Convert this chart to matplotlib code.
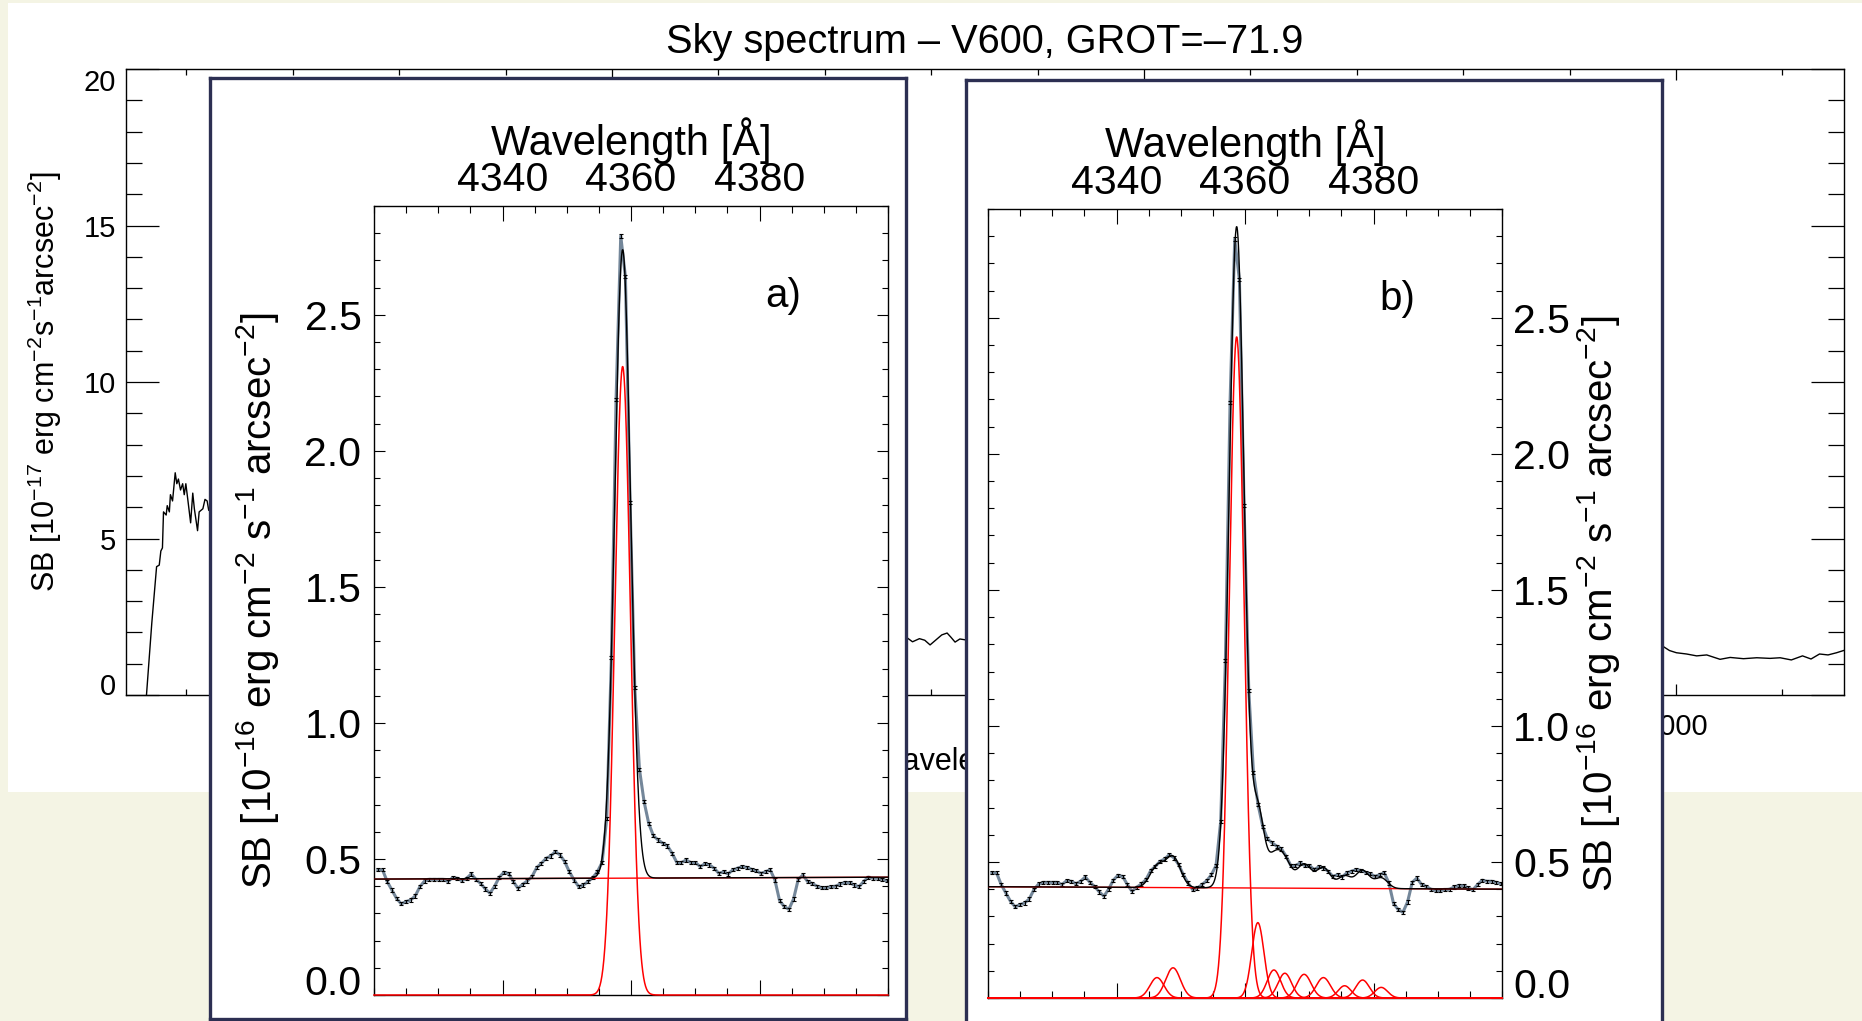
import numpy as np
import matplotlib
matplotlib.use("Agg")
import matplotlib.pyplot as plt
from matplotlib.patches import Rectangle
from matplotlib.ticker import MultipleLocator, FixedLocator, FormatStrFormatter

plt.rcParams['font.family'] = ['Liberation Sans', 'DejaVu Sans']
plt.rcParams['mathtext.fontset'] = 'custom'
plt.rcParams['mathtext.rm'] = 'Liberation Sans'
plt.rcParams['mathtext.it'] = 'Liberation Sans:italic'
plt.rcParams['mathtext.bf'] = 'Liberation Sans:bold'

W, H = 1862, 1021

# full sky spectrum (Angstrom, 1e-17 erg/cm2/s/arcsec2)
sky_wave = [4125, 4135, 4144, 4149, 4152, 4155, 4157, 4162, 4164, 4168,
            4170, 4174, 4179, 4182, 4185, 4189, 4193, 4196, 4199, 4203,
            4208, 4212, 4215, 4221, 4224, 4231, 4235, 4239, 4242,
            4300, 4500, 5000, 5300,
            5553, 5565, 5578, 5588, 5598, 5609, 5620, 5630, 5637, 5645, 5654, 5665,
            6000, 6500, 6900,
            6977, 6988, 7001, 7020, 7039, 7058, 7083, 7102, 7127, 7152,
            7177, 7196, 7217, 7238, 7254, 7270, 7286, 7302, 7315]
sky_flux = [0.0, 2.3, 4.1, 4.15, 4.6, 4.7, 5.85, 5.75, 6.05, 5.85,
            6.4, 6.2, 7.1, 6.75, 6.9, 6.55, 6.75, 6.4, 6.75, 6.2,
            5.5, 6.45, 5.95, 5.25, 5.85, 5.95, 6.25, 6.2, 5.9,
            5.6, 4.0, 2.6, 2.2,
            1.85, 1.7, 1.8, 1.75, 1.6, 1.76, 1.92, 1.98, 1.85, 1.69, 1.79, 1.76,
            1.6, 1.5, 1.55,
            1.54, 1.42, 1.35, 1.31, 1.25, 1.28, 1.14, 1.2, 1.16, 1.19,
            1.17, 1.19, 1.12, 1.25, 1.15, 1.31, 1.28, 1.35, 1.42]
main_xticks = [5000, 6000, 7000]

# zoom on the 4358 line, pixels of 0.727 A starting at 4320.6 A (1e-16 units)
zoom_start = 4320.6
zoom_step = 0.727
zoom_flux = [0.46, 0.46, 0.417, 0.386, 0.355, 0.335, 0.343, 0.349, 0.364, 0.398,
             0.419, 0.425, 0.425, 0.425, 0.425, 0.417, 0.431, 0.429, 0.42, 0.429,
             0.445, 0.425, 0.41, 0.39, 0.374, 0.40, 0.433, 0.451, 0.447, 0.417,
             0.392, 0.407, 0.419, 0.435, 0.468, 0.484, 0.502, 0.511, 0.527, 0.515,
             0.49, 0.453, 0.423, 0.398, 0.404, 0.417, 0.431, 0.453, 0.487, 0.65,
             1.24, 2.19, 2.79, 2.64, 1.81, 1.13, 0.83, 0.71, 0.63, 0.585,
             0.57, 0.558, 0.548, 0.521, 0.487, 0.487, 0.496, 0.487, 0.487, 0.472,
             0.482, 0.478, 0.466, 0.447, 0.453, 0.445, 0.46, 0.466, 0.472, 0.469,
             0.462, 0.457, 0.447, 0.453, 0.46, 0.423, 0.347, 0.325, 0.315, 0.353,
             0.425, 0.441, 0.417, 0.41, 0.40, 0.395, 0.395, 0.398, 0.40, 0.408,
             0.414, 0.413, 0.404, 0.398, 0.417, 0.433, 0.429, 0.429, 0.425, 0.42]
zoom_err = 0.006
zoom_xticks = [4340, 4360, 4380]

# fit a): linear continuum + one gaussian
cont_a = [0.426, 0.433]
amp_a = [2.31]
cen_a = [4358.7]
sig_a = [1.22]

# fit b): linear continuum + several gaussians
cont_b = [0.409, 0.400]
amp_b = [0.075, 0.111, 2.43, 0.277, 0.103, 0.091, 0.087, 0.075, 0.045, 0.066, 0.039]
cen_b = [4346.3, 4348.8, 4358.7, 4362.0, 4364.5, 4366.2, 4369.2, 4372.2, 4375.5, 4378.3, 4381.2]
sig_b = [1.1, 1.15, 1.15, 0.95, 1.05, 1.05, 1.1, 1.1, 1.0, 1.05, 1.0]


def rect(x0, y0, x1, y1):
    return [x0 / W, 1 - y1 / H, (x1 - x0) / W, (y1 - y0) / H]


def fx(x):
    return x / W


def fy(y):
    return 1 - y / H


fig = plt.figure(figsize=(W / 100, H / 100), dpi=100, facecolor='#f4f4e4')
fig.patches.append(Rectangle((fx(8), fy(792)), 1.0, fy(3) - fy(792), transform=fig.transFigure,
                             facecolor='white', edgecolor='none', zorder=-5))

# ---- main sky spectrum
ax = fig.add_axes(rect(126, 69, 1844, 695))
ax.plot(sky_wave, sky_flux, color='k', lw=1.0)
ax.set_xlim(4086.5, 7316)
ax.set_ylim(0, 20)
ax.xaxis.set_major_locator(FixedLocator(main_xticks))
ax.xaxis.set_minor_locator(MultipleLocator(200))
ax.yaxis.set_major_locator(MultipleLocator(5))
ax.yaxis.set_minor_locator(MultipleLocator(1))
ax.tick_params(which='both', direction='in', top=True, right=True, width=0.9)
ax.tick_params(axis='y', which='major', length=24, labelsize=21, pad=7)
ax.tick_params(axis='y', which='minor', length=11.5)
ax.tick_params(axis='x', which='major', length=8, labelsize=21, pad=13)
ax.tick_params(axis='x', which='minor', length=4.5)
for s in ax.spines.values():
    s.set_linewidth(1.0)

ax.text(fx(985), fy(53), 'Sky spectrum – V600, GROT=–71.9', transform=fig.transFigure,
        ha='center', va='baseline', fontsize=28.6, clip_on=False)
ax.text(fx(978), fy(770), 'Wavelength [Å]', transform=fig.transFigure,
        ha='center', va='baseline', fontsize=22, clip_on=False)
ax.text(fx(64), fy(382), 'SB [10$^{-17}$ erg cm$^{-2}$s$^{-1}$arcsec$^{-2}$]', transform=fig.transFigure,
        rotation=90, ha='right', va='center', fontsize=22, clip_on=False)


# ---- the two zoom panels
def draw_inset(box_px, ax_px, cont, amps, cens, sigs, tag, side, label_x, top_base):
    bx = fig.add_axes(rect(*box_px))
    bx.set_xticks([])
    bx.set_yticks([])
    for s in bx.spines.values():
        s.set_linewidth(2.4)
        s.set_color('#2c2f52')

    a = fig.add_axes(rect(*ax_px))
    wave = zoom_start + zoom_step * np.arange(len(zoom_flux))
    a.plot(wave, zoom_flux, color='#74879a', lw=2.2, zorder=2)
    a.errorbar(wave, zoom_flux, yerr=zoom_err, fmt='none', ecolor='k',
               elinewidth=0.8, capsize=1.4, capthick=0.8, zorder=2.2)

    xx = np.linspace(4320, 4400, 1600)
    base = np.interp(xx, [4320, 4400], cont)
    model = base.copy()
    a.plot(xx, base, color='red', lw=1.0, zorder=3)
    for amp, cen, sig in zip(amps, cens, sigs):
        g = amp * np.exp(-0.5 * ((xx - cen) / sig) ** 2)
        model = model + g
        a.plot(xx, g, color='red', lw=1.1, zorder=3, clip_on=False)
    a.plot(xx, model, color='k', lw=1.0, zorder=3.5)

    a.set_xlim(4320, 4400)
    a.set_ylim(0, 2.9)
    a.xaxis.set_major_locator(FixedLocator(zoom_xticks))
    a.xaxis.set_minor_locator(MultipleLocator(5))
    a.yaxis.set_major_locator(MultipleLocator(0.5))
    a.yaxis.set_minor_locator(MultipleLocator(0.1))
    a.yaxis.set_major_formatter(FormatStrFormatter('%.1f'))
    a.tick_params(which='both', direction='in', top=True, bottom=True, left=True, right=True,
                  labeltop=True, labelbottom=False, width=0.8)
    a.tick_params(axis='x', which='major', length=11, labelsize=29.5, pad=5)
    a.tick_params(axis='x', which='minor', length=5)
    a.tick_params(axis='y', which='major', length=8, labelsize=29.5, pad=9)
    a.tick_params(axis='y', which='minor', length=4)
    if side == 'right':
        a.tick_params(axis='y', labelleft=False, labelright=True, pad=8)
    for s in a.spines.values():
        s.set_linewidth(1.0)

    cx = (ax_px[0] + ax_px[2]) / 2
    a.text(fx(cx), fy(top_base), 'Wavelength [Å]', transform=fig.transFigure,
           ha='center', va='baseline', fontsize=30, clip_on=False)
    a.text(fx(label_x), fy((ax_px[1] + ax_px[3]) / 2),
           'SB [10$^{-16}$ erg cm$^{-2}$ s$^{-1}$ arcsec$^{-2}$]', transform=fig.transFigure,
           rotation=90, ha='right', va='center', fontsize=29, clip_on=False)
    a.text(4383.7, 2.57, tag, ha='center', va='center', fontsize=29)
    return a


ax_a = draw_inset((210, 78, 906, 1019), (374, 206, 888, 995), cont_a, amp_a, cen_a, sig_a,
                  'a)', 'left', 281, 155)
ax_b = draw_inset((966, 80, 1662, 1024), (988, 209, 1502, 998), cont_b, amp_b, cen_b, sig_b,
                  'b)', 'right', 1622, 157)

# IDL-like placement of the end tick labels (kept inside the axis span)
fig.canvas.draw()
for t in ax.yaxis.get_major_ticks():
    if t.get_loc() == 0:
        t.label1.set_va('baseline')
    elif t.get_loc() == 20:
        t.label1.set_va('top')
for a in (ax_a, ax_b):
    for t in a.yaxis.get_major_ticks():
        if t.get_loc() == 0:
            t.label1.set_va('baseline')
            t.label2.set_va('baseline')

fig.savefig('out.png', dpi=100, facecolor=fig.get_facecolor())
